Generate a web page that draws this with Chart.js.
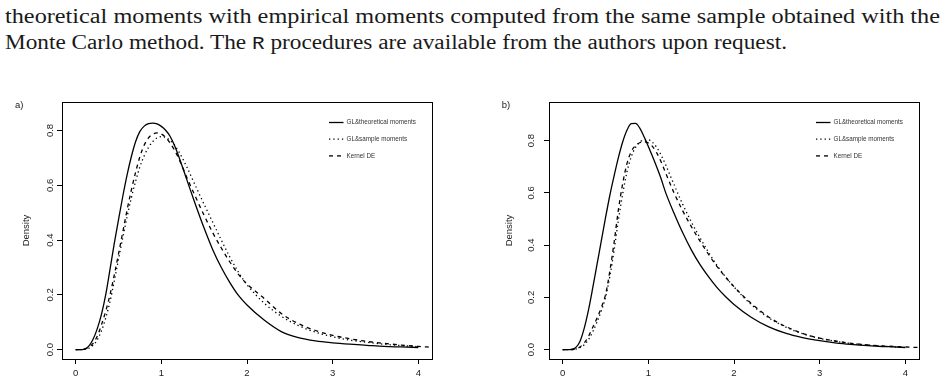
<!DOCTYPE html>
<html>
<head>
<meta charset="utf-8">
<script src="https://cdn.jsdelivr.net/npm/chart.js@4/dist/chart.umd.min.js"></script>
<style>
  html, body { margin: 0; padding: 0; background: #fff; }
  body { width: 947px; height: 387px; position: relative; overflow: hidden; }
  .tx { position: absolute; left: 5px; white-space: nowrap; font-family: "Liberation Serif", "DejaVu Serif", serif;
        font-size: 20.5px; line-height: 20.5px; color: #1a1a1a; transform-origin: 0 0; }
  .tt { font-family: "Liberation Mono", "DejaVu Sans Mono", monospace; font-size: 18.5px; }
  canvas { position: absolute; }
</style>
</head>
<body>
<div id="l1" class="tx" style="top:5.5px">theoretical moments with empirical moments computed from the same sample obtained with the</div>
<div id="l2" class="tx" style="top:32px">Monte Carlo method. The <span class="tt">R</span> procedures are available from the authors upon request.</div>
<canvas id="ca" width="470" height="327" style="left:0px;top:60px"></canvas>
<canvas id="cb" width="477" height="327" style="left:470px;top:60px"></canvas>
<script>
// ---------- data ----------
const xGrid = [0,0.05,0.1,0.15,0.2,0.25,0.3,0.35,0.4,0.45,0.5,0.55,0.6,0.65,0.7,0.75,0.8,0.85,0.9,0.95,1.0,1.05,1.1,1.15,1.2,1.3,1.4,1.5,1.6,1.7,1.8,1.9,2.0,2.2,2.4,2.6,2.8,3.0,3.2,3.4,3.6,3.8,4.0,4.16];

// panel a)
const aTheoretical = [0,0,0.002,0.012,0.036,0.075,0.128,0.2,0.292,0.387,0.475,0.56,0.638,0.705,0.76,0.797,0.816,0.825,0.827,0.824,0.815,0.801,0.78,0.748,0.708,0.618,0.528,0.443,0.365,0.30,0.245,0.198,0.163,0.108,0.066,0.044,0.032,0.025,0.02,0.016,0.012,0.01,0.008,null];
const aSample      = [0,0,0.001,0.005,0.015,0.035,0.068,0.115,0.175,0.25,0.33,0.41,0.485,0.555,0.615,0.668,0.708,0.738,0.76,0.773,0.778,0.775,0.765,0.748,0.725,0.665,0.597,0.53,0.465,0.40,0.338,0.283,0.237,0.17,0.122,0.088,0.064,0.047,0.035,0.027,0.02,0.015,0.011,null];
const aKernel      = [0,0,0.002,0.008,0.022,0.048,0.09,0.14,0.2,0.272,0.35,0.43,0.51,0.583,0.648,0.705,0.747,0.773,0.787,0.791,0.787,0.775,0.755,0.73,0.70,0.627,0.557,0.49,0.427,0.371,0.32,0.275,0.24,0.187,0.132,0.095,0.07,0.052,0.04,0.03,0.023,0.017,0.012,0.009];

// panel b)
const bTheoretical = [0,0,0.001,0.007,0.03,0.08,0.15,0.235,0.325,0.415,0.505,0.59,0.665,0.735,0.795,0.84,0.865,0.866,0.848,0.815,0.778,0.738,0.697,0.653,0.603,0.522,0.448,0.383,0.327,0.28,0.238,0.203,0.173,0.124,0.088,0.063,0.046,0.034,0.025,0.019,0.014,0.011,0.008,null];
const bSample      = [0,0,0,0.002,0.007,0.018,0.038,0.068,0.105,0.148,0.2,0.28,0.38,0.495,0.595,0.68,0.738,0.774,0.794,0.803,0.803,0.793,0.773,0.744,0.709,0.632,0.557,0.49,0.43,0.374,0.323,0.279,0.24,0.173,0.123,0.087,0.061,0.043,0.031,0.022,0.016,0.012,0.008,null];
const bKernel      = [0,0,0,0.003,0.01,0.025,0.05,0.085,0.12,0.16,0.21,0.3,0.41,0.535,0.635,0.712,0.758,0.781,0.792,0.796,0.791,0.777,0.752,0.718,0.678,0.6,0.532,0.472,0.417,0.366,0.319,0.278,0.241,0.177,0.126,0.089,0.062,0.044,0.032,0.023,0.017,0.013,0.01,0.008];

const xTicks = [0,1,2,3,4];
const yTicks = [0,0.2,0.4,0.6,0.8];
const seriesLabels = ["GL&theoretical moments","GL&sample moments","Kernel DE"];
const panelLetters = ["a)","b)"];

// ---------- top paragraph: stretch to the measured line widths ----------
function fitLine(id, target){
  const el = document.getElementById(id);
  const w = el.getBoundingClientRect().width;
  el.style.transform = "scaleX(" + (target / w) + ")";
}
fitLine("l1", 935);
fitLine("l2", 782);

// ---------- chart helpers ----------
const SANS = "'Liberation Sans', Arial, Helvetica, sans-serif";
function pts(ys){ return xGrid.map((x,i)=>({x:x, y:ys[i]})).filter(p=>p.y!==null); }

const boxPlugin = {
  id: 'box',
  afterDraw(chart){
    const {ctx, chartArea:a} = chart;
    ctx.save();
    ctx.strokeStyle = '#000'; ctx.lineWidth = 1; ctx.setLineDash([]);
    ctx.strokeRect(Math.round(a.left)+0.5, Math.round(a.top)+0.5, Math.round(a.right-a.left), Math.round(a.bottom-a.top));
    ctx.restore();
  }
};

const legendPlugin = {
  id: 'rlegend',
  afterDraw(chart){
    const {ctx, chartArea:a} = chart;
    const x0 = a.right - 103;
    ctx.save();
    chart.data.datasets.forEach((ds,i)=>{
      const y = a.top + 20.5 + i*16.7;
      ctx.strokeStyle = '#000';
      ctx.lineWidth = ds.borderWidth;
      ctx.setLineDash(ds.borderDash || []);
      ctx.beginPath(); ctx.moveTo(x0, y); ctx.lineTo(x0 + 14.5, y); ctx.stroke();
      ctx.setLineDash([]);
      ctx.fillStyle = '#333';
      ctx.font = "6.3px " + SANS;
      ctx.textBaseline = 'middle'; ctx.textAlign = 'left';
      ctx.fillText(ds.label, x0 + 17.5, y);
    });
    ctx.restore();
  }
};

const letterPlugin = {
  id: 'letter',
  afterDraw(chart, args, opts){
    const ctx = chart.ctx;
    ctx.save();
    ctx.fillStyle = '#222';
    ctx.font = "9.5px " + SANS;
    ctx.textBaseline = 'middle'; ctx.textAlign = 'left';
    ctx.fillText(opts.text, opts.x, opts.y);
    ctx.restore();
  }
};

function makeChart(id, theo, samp, kern, yMin, yMax, yAxisW, padRight, titlePad, tickPad, letter, letterX){
  return new Chart(document.getElementById(id), {
    type: 'line',
    data: {
      datasets: [
        {label: seriesLabels[0], data: pts(theo), borderColor:'#000', borderWidth:1.3, borderDash:[], pointRadius:0, cubicInterpolationMode:'monotone', fill:false},
        {label: seriesLabels[1], data: pts(samp), borderColor:'#000', borderWidth:1.3, borderDash:[1.3,3], pointRadius:0, cubicInterpolationMode:'monotone', fill:false},
        {label: seriesLabels[2], data: pts(kern), borderColor:'#000', borderWidth:1.3, borderDash:[4,4], pointRadius:0, cubicInterpolationMode:'monotone', fill:false}
      ]
    },
    options: {
      responsive:false, animation:false, devicePixelRatio:1,
      layout: {padding:{left:0, right:padRight, top:42, bottom:0}},
      events: [],
      plugins: {
        legend:{display:false}, tooltip:{enabled:false},
        letter: {text: letter, x: letterX, y: 45}
      },
      scales: {
        x: {
          type:'linear', min:-0.16, max:4.16,
          afterBuildTicks: s => { s.ticks = xTicks.map(v=>({value:v})); },
          afterFit: s => { s.height = 28; },
          grid: {drawOnChartArea:false, drawTicks:true, tickLength:5, color:'#000', tickColor:'#000', lineWidth:1},
          border: {display:true, color:'#000', width:1},
          ticks: {font:{family:SANS, size:9.5}, color:'#222', padding:4, maxRotation:0, minRotation:0, autoSkip:false,
                  callback: v => String(v)}
        },
        y: {
          type:'linear', min:yMin, max:yMax,
          afterBuildTicks: s => { s.ticks = yTicks.map(v=>({value:v})); },
          afterFit: s => { s.width = yAxisW; },
          grid: {drawOnChartArea:false, drawTicks:true, tickLength:5, color:'#000', tickColor:'#000', lineWidth:1},
          border: {display:true, color:'#000', width:1},
          ticks: {font:{family:SANS, size:9.5}, color:'#222', padding:tickPad, minRotation:90, maxRotation:90, crossAlign:'center', autoSkip:false,
                  callback: v => v.toFixed(1)},
          title: {display:true, text:'Density', font:{family:SANS, size:9.5}, color:'#222', padding:{top:titlePad, bottom:0}}
        }
      }
    },
    plugins: [boxPlugin, legendPlugin, letterPlugin]
  });
}

makeChart('ca', aTheoretical, aSample, aKernel, -0.034, 0.904, 62, 38, 20.3, 0.4, panelLetters[0], 15);
makeChart('cb', bTheoretical, bSample, bKernel, -0.036, 0.948, 79, 28, 33.3, 5.7, panelLetters[1], 31.7);
</script>
</body>
</html>
